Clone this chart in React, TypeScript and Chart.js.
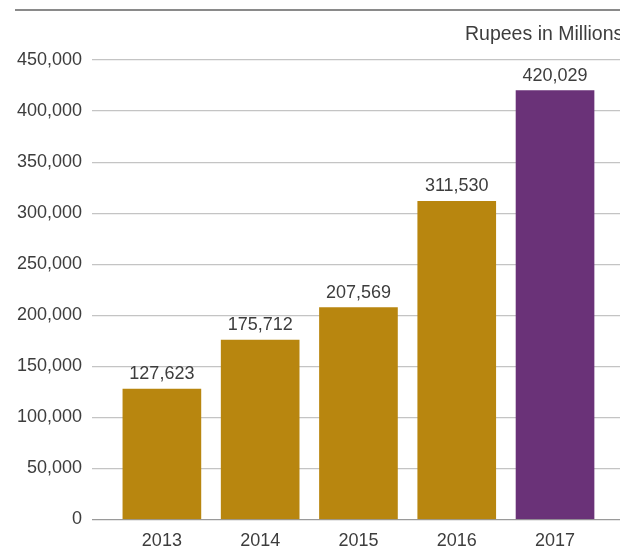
import React, { useEffect, useRef } from "react";
import { Chart, registerables } from "chart.js";

Chart.register(...registerables);

const years = ["2013", "2014", "2015", "2016", "2017"];
const revenue = [127623, 175712, 207569, 311530, 420029];
const yMax = 450000;
const yStep = 50000;
const unitLabel = "Rupees in Millions";

const GOLD = "#B8860F";
const PURPLE = "#6A3278";
const barColors = [GOLD, GOLD, GOLD, GOLD, PURPLE];

const FONT = "'Liberation Sans', Arial, Helvetica, sans-serif";
const TEXT = "#3d3d3d";

export default function App() {
  const ref = useRef<HTMLCanvasElement | null>(null);

  useEffect(() => {
    if (!ref.current) return;

    const decor = {
      id: "decor",
      beforeDraw(chart: any) {
        const c = chart.ctx;
        c.save();
        c.strokeStyle = "#8a8a8a";
        c.lineWidth = 2;
        c.beginPath();
        c.moveTo(15, 10);
        c.lineTo(620, 10);
        c.stroke();
        c.fillStyle = TEXT;
        c.font = `19.5px ${FONT}`;
        c.textAlign = "left";
        c.textBaseline = "alphabetic";
        c.fillText(unitLabel, 465, 40);
        c.restore();
      },
      afterDatasetsDraw(chart: any) {
        const c = chart.ctx;
        const meta = chart.getDatasetMeta(0);
        c.save();
        c.fillStyle = TEXT;
        c.font = `18px ${FONT}`;
        c.textAlign = "center";
        c.textBaseline = "alphabetic";
        meta.data.forEach((bar: any, i: number) => {
          c.fillText(revenue[i].toLocaleString("en-US"), bar.x, bar.y - 10);
        });
        c.restore();
      },
    };

    const chart = new Chart(ref.current, {
      type: "bar",
      data: {
        datasets: [
          {
            data: revenue.map((v, i) => ({ x: i, y: v })),
            backgroundColor: barColors,
            borderWidth: 0,
            barThickness: 78,
          },
        ],
      },
      options: {
        responsive: false,
        animation: false,
        layout: { padding: { top: 60, left: 0, right: 0, bottom: 0 } },
        plugins: {
          legend: { display: false },
          tooltip: { enabled: false },
        },
        scales: {
          x: {
            type: "linear",
            offset: false,
            min: -0.711,
            max: 4.661,
            grid: { display: false, drawTicks: false },
            border: { display: false },
            afterFit: (s: any) => {
              s.height = 29.5;
            },
            ticks: {
              stepSize: 1,
              includeBounds: false,
              autoSkip: false,
              maxRotation: 0,
              padding: 11,
              color: TEXT,
              font: { family: FONT, size: 18 },
              callback: (v: any) => {
                const n = Number(v);
                return Number.isInteger(n) && years[n] ? years[n] : "";
              },
            },
          },
          y: {
            min: 0,
            max: yMax,
            grid: {
              drawTicks: false,
              color: (ctx: any) => (ctx.tick && ctx.tick.value === 0 ? "#9a9a9a" : "#c4c4c4"),
              lineWidth: 1.2,
            },
            border: { display: false },
            afterFit: (s: any) => {
              s.width = 92;
            },
            ticks: {
              stepSize: yStep,
              padding: 10,
              color: TEXT,
              font: { family: FONT, size: 18 },
              callback: (v: any) => Number(v).toLocaleString("en-US"),
            },
          },
        },
      },
      plugins: [decor],
    });

    return () => chart.destroy();
  }, []);

  return (
    <div style={{ position: "fixed", left: 0, top: 0, width: 620, height: 549, background: "#fff" }}>
      <canvas ref={ref} width={620} height={549} style={{ display: "block" }} />
    </div>
  );
}
